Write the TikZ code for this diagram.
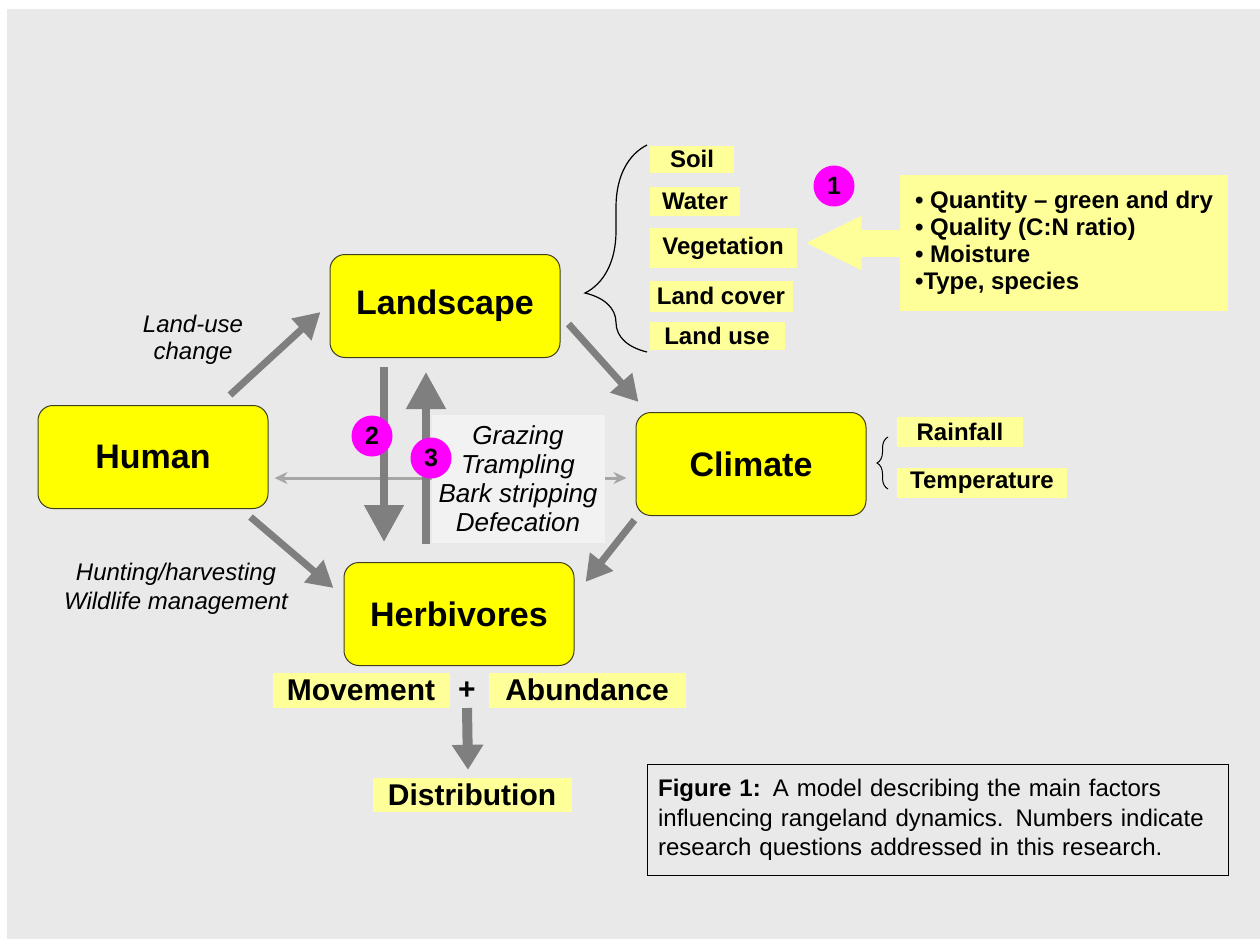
\documentclass[tikz,border=0pt]{standalone}
\usepackage{fontspec}
\setmainfont{Liberation Sans}
\usetikzlibrary{arrows.meta,decorations.pathreplacing}

\definecolor{bgcol}{HTML}{E9E9E9}
\definecolor{boxyellow}{HTML}{FFFF00}
\definecolor{paleyellow}{HTML}{FFFF99}
\definecolor{arrowgray}{HTML}{7F7F7F}
\definecolor{linegray}{HTML}{A6A6A6}
\definecolor{effectbg}{HTML}{F2F2F2}
\definecolor{magentadot}{HTML}{FF00FF}
\definecolor{boxedge}{HTML}{3F3F1F}

\begin{document}
\begin{tikzpicture}[x=1pt,y=-1pt]
\tikzstyle{mainbox}=[draw=boxedge, line width=1pt, fill=boxyellow, rounded corners=15pt, minimum width=230pt, minimum height=103pt, font=\fontsize{34}{40}\selectfont\bfseries]
\tikzstyle{hilite}=[fill=paleyellow, inner sep=0pt, font=\fontsize{24}{28}\selectfont\bfseries]
\tikzstyle{biglabel}=[fill=paleyellow, inner sep=0pt, font=\fontsize{30}{34}\selectfont\bfseries]
\tikzstyle{numdot}=[circle, fill=magentadot, inner sep=0pt, minimum size=41pt, font=\fontsize{25}{28}\selectfont\bfseries]
\tikzstyle{effect}=[align=center, font=\fontsize{24}{27}\selectfont\itshape]
\tikzstyle{bigarrow}=[draw=arrowgray, line width=7pt, -{Triangle[length=26pt,width=28pt]}]
\useasboundingbox (0,0) rectangle (1260,939);
\fill[bgcol] (7,9) rectangle (1260,939);
\node[mainbox] (landscape) at (445,306) {Landscape};
\node[mainbox] (human) at (153,457) {Human};
\node[mainbox] (climate) at (751,464) {Climate};
\node[mainbox] (herbivores) at (459,614) {Herbivores};
\node[hilite, minimum width=84pt, minimum height=27pt] (soil) at (692,159) {Soil};
\node[hilite, minimum width=90pt, minimum height=29pt] (water) at (695,201) {Water};
\node[hilite, minimum width=147pt, minimum height=40pt] (veg) at (723,248) {Vegetation};
\node[hilite, minimum width=143pt, minimum height=31pt] (cover) at (721,296) {Land cover};
\node[hilite, minimum width=135pt, minimum height=28pt] (use) at (717,336) {Land use};
\draw[decorate, decoration={brace, amplitude=62pt, aspect=0.285}, line width=1.2pt] (647,352) -- (647,145);
\node[fill=paleyellow, minimum width=328pt, minimum height=136pt, align=left, font=\fontsize{24}{27}\selectfont\bfseries] (traits) at (1064,243) {• Quantity – green and dry\\• Quality (C:N ratio)\\• Moisture\\•Type, species};
\draw[paleyellow, line width=27pt, -{Triangle[length=57pt,width=50pt]}, shorten >=8pt] (traits.west) -- (veg.east |- traits.west);
\node[numdot] (q1) at (834,186) {1};
\draw[decorate, decoration={brace, amplitude=11pt}, line width=1pt] (888,489) -- (888,437);
\node[hilite, minimum width=126pt, minimum height=30pt] (rain) at (960,432) {Rainfall};
\node[hilite, minimum width=170pt, minimum height=30pt] (temp) at (982,483) {Temperature};
\draw[linegray, line width=3pt, {Stealth[length=13pt,width=12pt]}-{Stealth[length=13pt,width=12pt]}] ([shift={(6,21)}]human.east) -- ([shift={(-9,14)}]climate.west);
\node[fill=effectbg, minimum width=173pt, minimum height=128pt, effect, font=\fontsize{26}{29}\selectfont\itshape] (effects) at (518,479) {Grazing\\Trampling\\Bark stripping\\Defecation};
\draw[arrowgray, line width=8pt, -{Triangle[length=37pt,width=38pt]}] ([shift={(-61,9)}]landscape.south) -- ([shift={(-75,-20)}]herbivores.north);
\draw[arrowgray, line width=8pt, -{Triangle[length=37pt,width=38pt]}] ([shift={(-33,-18)}]herbivores.north) -- ([shift={(-19,14)}]landscape.south);
\node[numdot] (q2) at (372,436) {2};
\node[numdot] (q3) at (431,458) {3};
\draw[bigarrow] ([shift={(77,-10)}]human.north) -- ([shift={(-9,6)}]landscape.west);
\draw[bigarrow] ([shift={(8,18)}]landscape.east) -- ([shift={(3,-10)}]climate.north west);
\draw[bigarrow] ([shift={(-1,4)}]climate.south west) -- ([shift={(11,-32)}]herbivores.east);
\draw[bigarrow] ([shift={(-18,8)}]human.south east) -- ([shift={(-10,-26)}]herbivores.west);
\node[effect] (landuse) at (193,340) {Land-use\\change};
\node[effect, font=\fontsize{24}{29}\selectfont\itshape] (hunting) at (176,589) {Hunting/harvesting\\Wildlife management};
\node[biglabel, minimum width=177pt, minimum height=35pt] (movement) at (361,690) {Movement};
\node[font=\fontsize{30}{34}\selectfont\bfseries] (plus) at (467,691) {+};
\node[biglabel, minimum width=197pt, minimum height=35pt] (abundance) at (587,690) {Abundance};
\node[biglabel, minimum width=199pt, minimum height=34pt] (distribution) at (472,795) {Distribution};
\draw[arrowgray, line width=10pt, -{Triangle[length=25pt,width=30pt]}] ([yshift=-17pt]plus.center) -- ([xshift=-4pt,yshift=8pt]distribution.north);
\node[draw=black, line width=1.2pt, fill=bgcol, anchor=north west, minimum width=581pt, minimum height=111pt, text width=560pt, align=left, font=\fontsize{24}{29.5}\selectfont] (caption) at (647,764) {\textbf{Figure 1:} A model describing the main factors\\influencing rangeland dynamics. Numbers indicate\\research questions addressed in this research.};
\end{tikzpicture}
\end{document}
